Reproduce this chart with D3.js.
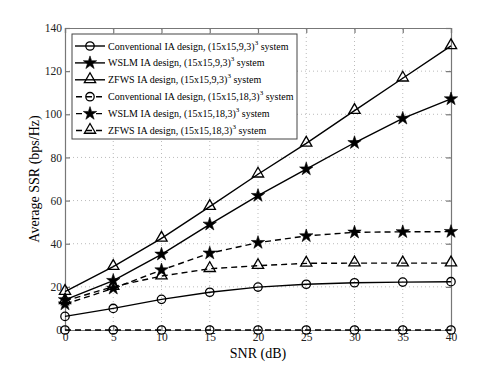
<!DOCTYPE html>
<html>
<head>
<meta charset="utf-8">
<script src="https://cdn.jsdelivr.net/npm/d3@7"></script>
<style>
  body { margin: 0; background: #fff; }
  text { font-family: "Liberation Serif", "Times New Roman", serif; }
</style>
</head>
<body>
<div id="chart"></div>
<script>
const w = 498;
const h = 372;
const margin = { top: 28, right: 47, bottom: 42, left: 65 };

const snr = [0, 5, 10, 15, 20, 25, 30, 35, 40];
const convSmall = [6.3, 10, 14.2, 17.5, 19.9, 21.2, 21.9, 22.2, 22.4];
const wslmSmall = [14, 22.9, 35.1, 49, 62.3, 74.6, 86.8, 98.1, 107.1];
const zfwsSmall = [17.8, 29.4, 42.5, 57.2, 72.2, 86.5, 101.7, 116.7, 131.7];
const convLarge = [0, 0, 0, 0, 0, 0, 0, 0, 0];
const wslmLarge = [12, 19.3, 27.8, 35.6, 40.5, 43.6, 45.3, 45.5, 45.6];
const zfwsLarge = [13.5, 20.1, 25, 28.4, 29.8, 30.9, 31, 31, 31];

const xTicks = [0, 5, 10, 15, 20, 25, 30, 35, 40];
const yTicks = [0, 20, 40, 60, 80, 100, 120, 140];

const legendNames = [
  ["Conventional IA design, (15x15,9,3)", " system"],
  ["WSLM IA design, (15x15,9,3)", " system"],
  ["ZFWS IA design, (15x15,9,3)", " system"],
  ["Conventional IA design, (15x15,18,3)", " system"],
  ["WSLM IA design, (15x15,18,3)", " system"],
  ["ZFWS IA design, (15x15,18,3)", " system"],
];

const series = [
  { values: convSmall, marker: "circle", dashed: false },
  { values: wslmSmall, marker: "star", dashed: false },
  { values: zfwsSmall, marker: "triangle", dashed: false },
  { values: convLarge, marker: "circle", dashed: true },
  { values: wslmLarge, marker: "star", dashed: true },
  { values: zfwsLarge, marker: "triangle", dashed: true },
];

const svg = d3
  .select("#chart")
  .append("svg")
  .attr("width", w)
  .attr("height", h);

const x = d3.scaleLinear().domain([0, 40]).range([margin.left, w - margin.right]);
const y = d3.scaleLinear().domain([0, 140]).range([h - margin.bottom, margin.top]);

// grid
svg.append("g")
  .selectAll("line")
  .data(xTicks.slice(1, -1))
  .enter()
  .append("line")
  .attr("x1", (d) => x(d)).attr("x2", (d) => x(d))
  .attr("y1", y(0)).attr("y2", y(140))
  .attr("stroke", "#bbb").attr("stroke-width", 1).attr("stroke-dasharray", "1,3");
svg.append("g")
  .selectAll("line")
  .data(yTicks.slice(1, -1))
  .enter()
  .append("line")
  .attr("x1", x(0)).attr("x2", x(40))
  .attr("y1", (d) => y(d)).attr("y2", (d) => y(d))
  .attr("stroke", "#bbb").attr("stroke-width", 1).attr("stroke-dasharray", "1,3");

// axes
svg.append("g")
  .attr("transform", `translate(0,${y(0)})`)
  .call(d3.axisBottom(x).tickValues(xTicks).tickSize(-5).tickPadding(3));
svg.append("g")
  .attr("transform", `translate(${x(0)},0)`)
  .call(d3.axisLeft(y).tickValues(yTicks).tickSize(-5).tickPadding(3));
svg.append("g")
  .attr("transform", `translate(0,${y(140)})`)
  .call(d3.axisTop(x).tickValues(xTicks).tickSize(-5).tickFormat(""));
svg.append("g")
  .attr("transform", `translate(${x(40)},0)`)
  .call(d3.axisRight(y).tickValues(yTicks).tickSize(-5).tickFormat(""));

svg.selectAll(".domain, .tick line").attr("stroke", "#777").attr("stroke-width", 1.2);
svg.selectAll(".tick text")
  .attr("font-family", "Liberation Serif")
  .attr("font-size", "11.5px")
  .attr("fill", "#222");

svg.append("text")
  .attr("x", (x(0) + x(40)) / 2)
  .attr("y", 358)
  .attr("text-anchor", "middle")
  .attr("font-size", "14px")
  .text("SNR (dB)");

svg.append("text")
  .attr("transform", `translate(39,${(y(0) + y(140)) / 2}) rotate(-90)`)
  .attr("text-anchor", "middle")
  .attr("font-size", "14px")
  .text("Average SSR (bps/Hz)");

const drawMarker = function (g, type, cx, cy) {
  if (type === "circle") {
    g.append("circle").attr("cx", cx).attr("cy", cy).attr("r", 4.2)
      .attr("fill", "none").attr("stroke", "#000").attr("stroke-width", 1.3);
  } else if (type === "star") {
    g.append("path").attr("d", d3.symbol().type(d3.symbolStar).size(55)())
      .attr("transform", `translate(${cx},${cy})`)
      .attr("fill", "#000").attr("stroke", "#000").attr("stroke-width", 0.6);
  } else {
    g.append("path").attr("d", d3.symbol().type(d3.symbolTriangle).size(55)())
      .attr("transform", `translate(${cx},${cy - 0.5})`)
      .attr("fill", "none").attr("stroke", "#000").attr("stroke-width", 1.3);
  }
};

const line = d3.line().x((d, i) => x(snr[i])).y((d) => y(d));

series.forEach((s) => {
  svg.append("path")
    .datum(s.values)
    .attr("d", line)
    .attr("fill", "none")
    .attr("stroke", "#000")
    .attr("stroke-width", 1.4)
    .attr("stroke-dasharray", s.dashed ? "6,4" : null);
  const g = svg.append("g");
  s.values.forEach((v, i) => drawMarker(g, s.marker, x(snr[i]), y(v)));
});

// legend
const lg = svg.append("g");
lg.append("rect")
  .attr("x", 72).attr("y", 34).attr("width", 225).attr("height", 105)
  .attr("fill", "#fff").attr("stroke", "#444").attr("stroke-width", 1);

series.forEach((s, i) => {
  const ly = 46 + i * 16.9;
  lg.append("line")
    .attr("x1", 75).attr("x2", 105).attr("y1", ly).attr("y2", ly)
    .attr("stroke", "#000").attr("stroke-width", 1.4)
    .attr("stroke-dasharray", s.dashed ? "6,4" : null)
    .attr("stroke-dashoffset", s.dashed ? -1 : 0);
  drawMarker(lg, s.marker, 90, ly);
  const t = lg.append("text")
    .attr("x", 108).attr("y", ly + 3.5)
    .attr("font-size", "10px");
  t.append("tspan").text(legendNames[i][0]);
  t.append("tspan").attr("dy", -5).attr("font-size", "7px").text("3");
  t.append("tspan").attr("dy", 5).text(legendNames[i][1]);
});
</script>
</body>
</html>
